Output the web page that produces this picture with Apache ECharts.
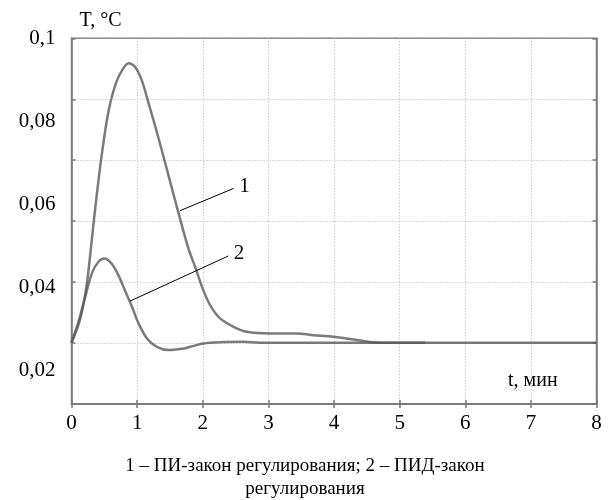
<!DOCTYPE html>
<html>
<head>
<meta charset="utf-8">
<script src="https://cdn.jsdelivr.net/npm/echarts@6/dist/echarts.min.js"></script>
<style>
  html, body { margin: 0; padding: 0; background: #fff; }
  #chart { width: 610px; height: 500px; }
</style>
</head>
<body>
<div id="chart"></div>
<script>
// кривая 1 - ПИ-закон
var tPI = [0, 0.06, 0.12, 0.18, 0.24, 0.3, 0.36, 0.45, 0.54, 0.62, 0.72, 0.87, 0.97, 1.07, 1.17, 1.27, 1.4, 1.5, 1.65, 1.78, 1.89, 1.99, 2.11, 2.26, 2.47, 2.67, 3.03, 3.43, 3.69, 3.99, 4.4, 4.7, 5.39]
var tempPI = [0.0266, 0.0289, 0.0316, 0.0357, 0.0415, 0.05, 0.0588, 0.0706, 0.0803, 0.0862, 0.0908, 0.094, 0.0931, 0.0899, 0.0846, 0.0791, 0.0716, 0.0656, 0.0567, 0.0494, 0.0446, 0.04, 0.0357, 0.0325, 0.0304, 0.0292, 0.0288, 0.0288, 0.0284, 0.028, 0.0271, 0.0266, 0.0266]
// кривая 2 - ПИД-закон
var tPID = [0, 0.1, 0.21, 0.31, 0.41, 0.5, 0.61, 0.71, 0.82, 0.92, 1.02, 1.15, 1.3, 1.48, 1.68, 1.81, 2.01, 2.26, 2.62, 2.87, 8]
var tempPID = [0.0266, 0.0313, 0.0377, 0.0433, 0.0461, 0.0469, 0.0457, 0.043, 0.039, 0.0353, 0.0313, 0.0276, 0.0256, 0.0248, 0.0251, 0.0256, 0.0264, 0.0267, 0.0268, 0.0266, 0.0266]
var yTicks = [0.02, 0.04, 0.06, 0.08, 0.1]
// выноски: [t, T] начало, конец
var lead1 = [[1.65, 0.0584], [2.47, 0.0638]]
var lead2 = [[0.89, 0.0366], [2.39, 0.0475]]

var serif = 'Liberation Serif'
var frame = '#7a7a7a'
var dots = { color: '#b4b4b4', type: [1, 2], width: 1 }

function zip (a, b) {
  var out = []
  for (var i = 0; i < a.length; i++) out.push([a[i], b[i]])
  return out
}

function leader (pts, txt) {
  return {
    silent: true,
    symbol: ['none', 'none'],
    lineStyle: { color: '#000', width: 1, type: 'solid' },
    label: {
      show: true,
      position: 'end',
      formatter: txt,
      color: '#000',
      fontFamily: serif,
      fontSize: 21,
      distance: 6
    },
    emphasis: { disabled: true },
    data: [[{ coord: pts[0] }, { coord: pts[1] }]]
  }
}

var myChart = echarts.init(document.getElementById('chart'))
myChart.setOption({
  animation: false,
  title: [
    {
      text: '1 – ПИ-закон регулирования; 2 – ПИД-закон\nрегулирования',
      left: 'center',
      top: 450,
      textStyle: { fontFamily: serif, fontSize: 19, fontWeight: 'normal', color: '#000', lineHeight: 23 }
    },
    {
      text: 't, мин',
      left: 503,
      top: 366,
      textStyle: { fontFamily: serif, fontSize: 20, fontWeight: 'normal', color: '#000' }
    }
  ],
  grid: {
    left: 71.5,
    right: 13.5,
    top: 38.3,
    bottom: 96,
    show: true,
    borderColor: frame,
    borderWidth: 1.5
  },
  xAxis: [
    {
      type: 'value',
      min: 0,
      max: 8,
      interval: 1,
      axisLine: { show: true, lineStyle: { color: frame, width: 1.5 } },
      axisTick: { show: true, inside: true, length: 4, lineStyle: { color: frame, width: 1.5 } },
      axisLabel: { color: '#000', fontFamily: serif, fontSize: 21, margin: 9 },
      splitLine: { show: true, lineStyle: dots }
    },
    {
      type: 'value',
      position: 'top',
      min: 0,
      max: 8,
      interval: 1,
      axisLine: { show: true, lineStyle: { color: frame, width: 1.5 } },
      axisTick: { show: true, inside: true, length: 4, lineStyle: { color: frame, width: 1.5 } },
      axisLabel: { show: false },
      splitLine: { show: false }
    }
  ],
  yAxis: [
    {
      // шкала данных и подписи
      type: 'value',
      position: 'left',
      min: 0.0118,
      max: 0.1,
      name: 'T, °C',
      nameLocation: 'end',
      nameGap: 8,
      nameTextStyle: { color: '#000', fontFamily: serif, fontSize: 20, align: 'left', padding: [0, 0, 0, 8] },
      axisLine: { show: true, lineStyle: { color: frame, width: 1.5 } },
      axisTick: { show: false },
      axisLabel: {
        color: '#000',
        fontFamily: serif,
        fontSize: 21,
        margin: 16,
        customValues: yTicks,
        formatter: function (v) { return String(+v.toFixed(2)).replace('.', ',') }
      },
      splitLine: { show: false }
    },
    {
      // сетка
      type: 'value',
      position: 'left',
      min: 0,
      max: 6,
      interval: 1,
      axisLine: { show: false },
      axisTick: { show: true, inside: true, length: 4, lineStyle: { color: frame, width: 1.5 } },
      axisLabel: { show: false },
      splitLine: { show: true, lineStyle: dots }
    },
    {
      type: 'value',
      position: 'right',
      min: 0,
      max: 6,
      interval: 1,
      axisLine: { show: true, lineStyle: { color: frame, width: 1.5 } },
      axisTick: { show: true, inside: true, length: 4, lineStyle: { color: frame, width: 1.5 } },
      axisLabel: { show: false },
      splitLine: { show: false }
    }
  ],
  series: [
    {
      name: 'ПИ',
      type: 'line',
      xAxisIndex: 0,
      yAxisIndex: 0,
      showSymbol: false,
      smooth: 0.3,
      lineStyle: { color: 'rgba(90,90,90,0.8)', width: 2.5 },
      markLine: leader(lead1, '1'),
      data: zip(tPI, tempPI)
    },
    {
      name: 'ПИД',
      type: 'line',
      xAxisIndex: 0,
      yAxisIndex: 0,
      showSymbol: false,
      smooth: 0.3,
      lineStyle: { color: 'rgba(90,90,90,0.8)', width: 2.5 },
      markLine: leader(lead2, '2'),
      data: zip(tPID, tempPID)
    }
  ]
})
</script>
</body>
</html>
